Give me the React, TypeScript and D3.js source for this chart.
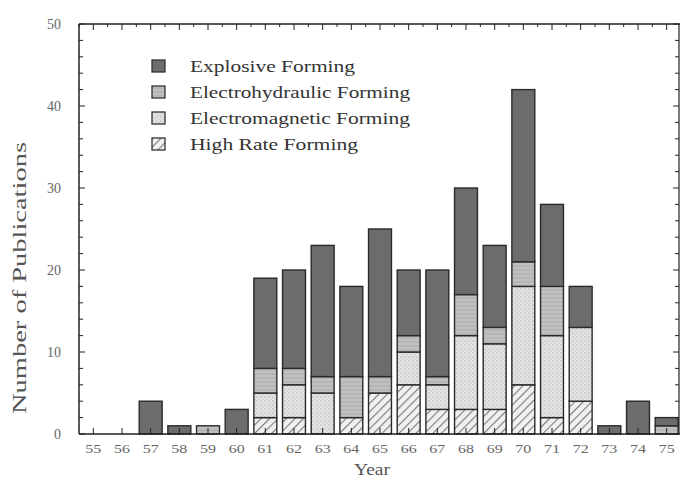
import React from "react";
import * as d3 from "d3";

const years = ["55","56","57","58","59","60","61","62","63","64","65","66","67","68","69","70","71","72","73","74","75"];
const highRate =        [0,0,0,0,0,0, 2, 2, 0, 2, 5, 6, 3, 3, 3, 6, 2, 4,0,0,0];
const electromagnetic = [0,0,0,0,0,0, 3, 4, 5, 0, 0, 4, 3, 9, 8,12,10, 9,0,0,0];
const electrohydraulic =[0,0,0,0,1,0, 3, 2, 2, 5, 2, 2, 1, 5, 2, 3, 6, 0,0,0,1];
const explosive =       [0,0,4,1,0,3,11,12,16,11,18, 8,13,13,10,21,10, 5,1,4,1];
const seriesNames = ["Explosive Forming","Electrohydraulic Forming","Electromagnetic Forming","High Rate Forming"];
const yTicks = [0,10,20,30,40,50];

const W = 680, H = 480;
const left = 79, right = 681, top = 24, bottom = 434;
const legendWidths = [165, 220, 220, 168];

export default function App() {
  const x = d3.scaleBand<string>().domain(years).range([left, right]).paddingInner(0.2).paddingOuter(0.1);
  const y = d3.scaleLinear().domain([0, 50]).range([bottom, top]);
  const rows = years.map((yr, i) => ({ yr, hr: highRate[i], em: electromagnetic[i], eh: electrohydraulic[i], ex: explosive[i] }));
  const stack = d3.stack<any>().keys(["hr","em","eh","ex"])(rows);
  const fills: Record<string,string> = { hr: "url(#hatch)", em: "url(#dots)", eh: "url(#eh)", ex: "#6c6c6c" };
  const legendFills = ["#6c6c6c","url(#eh)","url(#dots)","url(#hatch)"];
  const minorY = d3.range(0, 51, 2);
  const font = "'Liberation Serif', 'DejaVu Serif', serif";
  return (
    <svg width={W} height={H} style={{ position: "absolute", left: 0, top: 0, background: "#fff" }} fontFamily={font}>
      <defs>
        <pattern id="hatch" width="6" height="6" patternUnits="userSpaceOnUse" patternTransform="rotate(45)">
          <rect width="6" height="6" fill="#f0f0f0" />
          <line x1="0" y1="0" x2="0" y2="6" stroke="#7a7a7a" strokeWidth="2.2" />
        </pattern>
        <pattern id="dots" width="4" height="4" patternUnits="userSpaceOnUse">
          <rect width="4" height="4" fill="#e4e4e4" />
          <circle cx="1" cy="1" r="0.7" fill="#aaaaaa" />
          <circle cx="3" cy="3" r="0.7" fill="#c0c0c0" />
        </pattern>
        <pattern id="eh" width="4" height="4" patternUnits="userSpaceOnUse">
          <rect width="4" height="4" fill="#c0c0c0" />
          <line x1="0" y1="2" x2="4" y2="2" stroke="#adadad" strokeWidth="1" />
        </pattern>
      </defs>
      {stack.map((s) => (
        <g key={s.key}>
          {s.map((d, i) => {
            const h = y(d[0]) - y(d[1]);
            if (h <= 0) return null;
            return (
              <rect key={i} x={x(years[i])!} y={y(d[1])} width={x.bandwidth()} height={h}
                fill={fills[s.key]} stroke="#2a2a2a" strokeWidth={1.4} />
            );
          })}
        </g>
      ))}
      <line x1={left} x2={left} y1={top} y2={bottom} stroke="#222" strokeWidth={1.5} />
      <line x1={left} x2={right} y1={bottom} y2={bottom} stroke="#222" strokeWidth={1.5} />
      <line x1={left} x2={right} y1={top} y2={top} stroke="#222" strokeWidth={1.5} />
      <line x1={679} x2={679} y1={top} y2={bottom} stroke="#222" strokeWidth={1.2} />
      {minorY.map((v) => (
        <g key={"my" + v}>
          <line x1={left} x2={left + (v % 10 === 0 ? 6 : 4)} y1={y(v)} y2={y(v)} stroke="#222" strokeWidth={1} />
          <line x1={679} x2={679 - (v % 10 === 0 ? 6 : 4)} y1={y(v)} y2={y(v)} stroke="#222" strokeWidth={1} />
        </g>
      ))}
      {years.map((yr) => {
        const cx = x(yr)! + x.bandwidth() / 2;
        const bx = x(yr)! - (x.step() - x.bandwidth()) / 2;
        return (
          <g key={"xt" + yr}>
            <line x1={cx} x2={cx} y1={bottom} y2={bottom - 6} stroke="#222" strokeWidth={1} />
            <line x1={cx} x2={cx} y1={top} y2={top + 6} stroke="#222" strokeWidth={1} />
            <line x1={bx} x2={bx} y1={top} y2={top + 3} stroke="#222" strokeWidth={1} />
            <text x={cx} y={453} textAnchor="middle" fontSize={13} fill="#666" textLength={16} lengthAdjust="spacingAndGlyphs">{yr}</text>
          </g>
        );
      })}
      {yTicks.map((v) => (
        <text key={"yl" + v} x={61} y={y(v) + 5} textAnchor="end" fontSize={14} fill="#666">{v}</text>
      ))}
      <text transform={`translate(26,${278}) rotate(-90)`} textAnchor="middle" fontSize={18} fill="#555"
        textLength={272} lengthAdjust="spacingAndGlyphs">Number of Publications</text>
      <text x={372} y={475} textAnchor="middle" fontSize={17} fill="#555" textLength={36} lengthAdjust="spacingAndGlyphs">Year</text>
      {seriesNames.map((name, i) => (
        <g key={name} transform={`translate(152,${60 + i * 26})`}>
          <rect x={0} y={0} width={13} height={12} fill={legendFills[i]} stroke="#333" strokeWidth={1.3} />
          <text x={38} y={12} fontSize={17} fill="#333" textLength={legendWidths[i]} lengthAdjust="spacingAndGlyphs">{name}</text>
        </g>
      ))}
    </svg>
  );
}
